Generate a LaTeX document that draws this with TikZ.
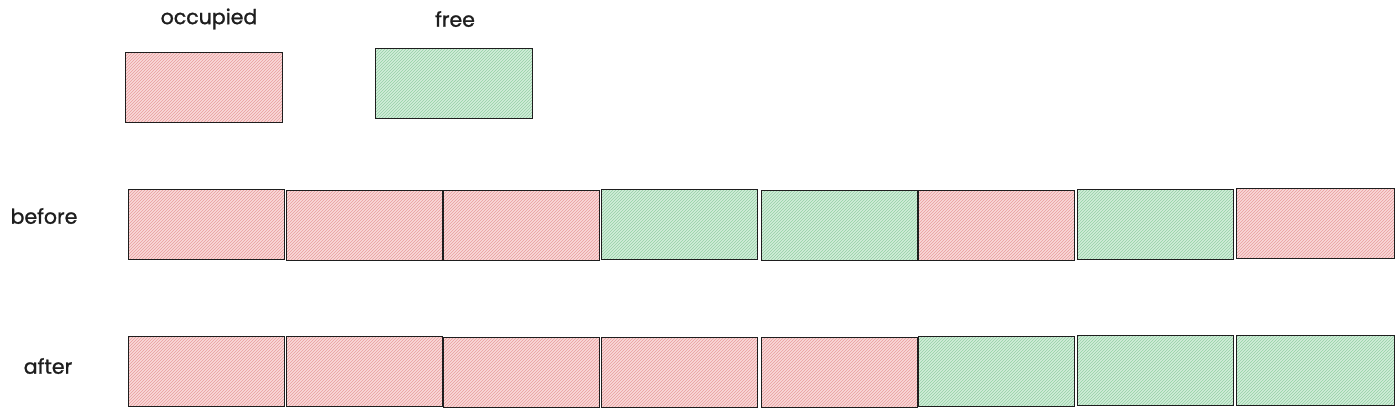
\documentclass[tikz,border=0pt]{standalone}
\usepackage{fontspec}
\setmainfont{Poppins}
\newfontfamily\hand{Poppins}[FakeBold=1.2]
\usetikzlibrary{patterns}
\definecolor{ink}{HTML}{1E1E1E}
\definecolor{occfill}{HTML}{F9DADA}
\definecolor{occline}{HTML}{E99C9C}
\definecolor{freefill}{HTML}{D2EEDA}
\definecolor{freeline}{HTML}{94CFA5}
\tikzset{
  cell/.style={draw=ink, line width=1.4pt, minimum width=156pt, minimum height=70pt, anchor=north west, inner sep=0pt},
  occ/.style={cell, preaction={fill=occfill}, preaction={pattern=north east lines, pattern color=occline}},
  fre/.style={cell, preaction={fill=freefill}, preaction={pattern=north east lines, pattern color=freeline}},
  lbl/.style={text=ink, font=\hand\fontsize{20.5}{24}\selectfont, inner sep=0pt}
}
\begin{document}
\begin{tikzpicture}[x=1pt,y=-1pt]
\useasboundingbox (0,0) rectangle (1400,413);
% legend
\node[occ, minimum width=157pt, minimum height=70pt] (legocc) at (125,52) {};
\node[fre, minimum width=157pt, minimum height=70pt] (legfree) at (375,48) {};
\node[lbl] (tocc) at (209,19) {occupied};
\node[lbl] (tfree) at (455,19) {free};
% row labels
\node[lbl] (tbefore) at (44,216) {before};
\node[lbl] (tafter) at (48,366) {after};
% before row
\node[occ] (b1) at (128,189) {};
\node[occ] (b2) at (286,190) {};
\node[occ] (b3) at (443,190) {};
\node[fre] (b4) at (601,189) {};
\node[fre] (b5) at (761,190) {};
\node[occ] (b6) at (918,190) {};
\node[fre] (b7) at (1077,189) {};
\node[occ, minimum width=158pt] (b8) at (1236,188) {};
% after row
\node[occ] (a1) at (128,336) {};
\node[occ] (a2) at (286,336) {};
\node[occ] (a3) at (443,337) {};
\node[occ] (a4) at (601,337) {};
\node[occ] (a5) at (761,337) {};
\node[fre] (a6) at (918,336) {};
\node[fre] (a7) at (1077,335) {};
\node[fre, minimum width=158pt] (a8) at (1236,335) {};
\end{tikzpicture}
\end{document}
